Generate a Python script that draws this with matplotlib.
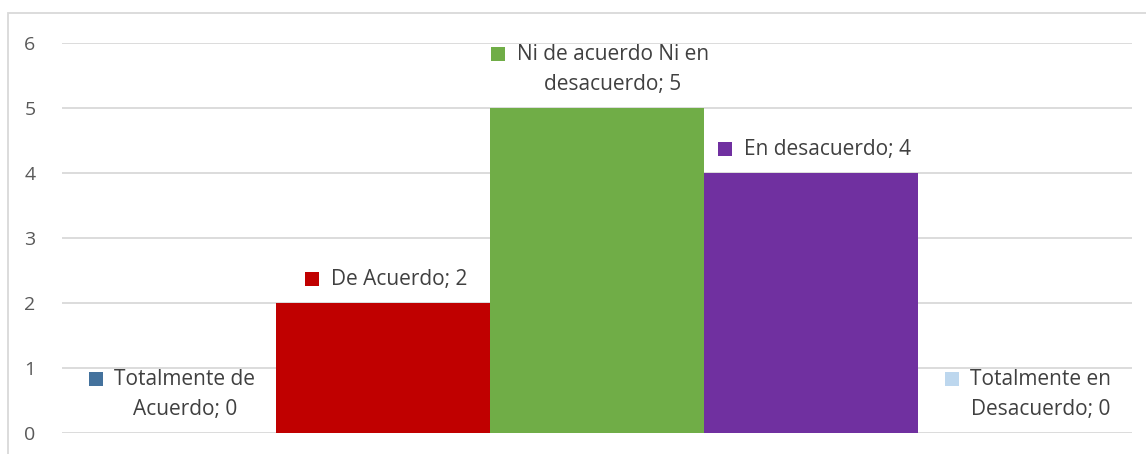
import matplotlib.pyplot as plt
from matplotlib.patches import Rectangle

categories = ["Totalmente de\nAcuerdo", "De Acuerdo", "Ni de acuerdo Ni en\ndesacuerdo",
              "En desacuerdo", "Totalmente en\nDesacuerdo"]
values = [0, 2, 5, 4, 0]
colors = ["#44729D", "#C00000", "#70AD47", "#7030A0", "#BDD7EE"]
yticks = [0, 1, 2, 3, 4, 5, 6]

plt.rcParams["font.family"] = ["Open Sans", "DejaVu Sans"]
text_color = "#404040"

fig = plt.figure(figsize=(11.46, 4.54), dpi=100)
W, H = 1146, 454
ax = fig.add_axes([62 / W, 1 - 433 / H, (1132 - 62) / W, (433 - 43) / H])

x = list(range(len(values)))
ax.bar(x, values, width=1.0, color=colors, zorder=2)
ax.set_xlim(-0.5, len(values) - 0.5)
ax.set_ylim(0, 6)
ax.set_yticks(yticks)
ax.set_xticks([])
ax.grid(axis="y", color="#D9D9D9", linewidth=1.3, zorder=0)
for s in ax.spines.values():
    s.set_visible(False)
ax.tick_params(axis="y", length=0, pad=19, labelsize=14, labelcolor="#595959")

# outer chart border
fig.patches.append(Rectangle((8 / W, -0.1), 1.2, 1 - 13 / H + 0.1, transform=fig.transFigure,
                             fill=False, edgecolor="#D9D9D9", linewidth=1.3))

texts = []
for i, (cat, v) in enumerate(zip(categories, values)):
    parts = cat.split("\n")
    parts[-1] = parts[-1] + "; " + str(v)
    t = ax.annotate("\n".join(parts), xy=(i, v), xytext=(16, 13), textcoords="offset pixels",
                    ha="center", va="bottom", multialignment="center",
                    fontsize=15, color=text_color, linespacing=1.55, zorder=5)
    texts.append(t)

fig.canvas.draw()
r = fig.canvas.get_renderer()
for t, c in zip(texts, colors):
    bb = t.get_window_extent(r)
    nlines = t.get_text().count("\n") + 1
    if nlines > 1:
        cy = bb.y1 - 11
    else:
        cy = (bb.y0 + bb.y1) / 2
    size = 14
    fig.patches.append(Rectangle(((bb.x0 - 12 - size) / W, (cy - size / 2 + 1) / H), size / W, size / H,
                                 transform=fig.transFigure, facecolor=c, edgecolor="none", zorder=6))

fig.savefig("out.png", dpi=100)
